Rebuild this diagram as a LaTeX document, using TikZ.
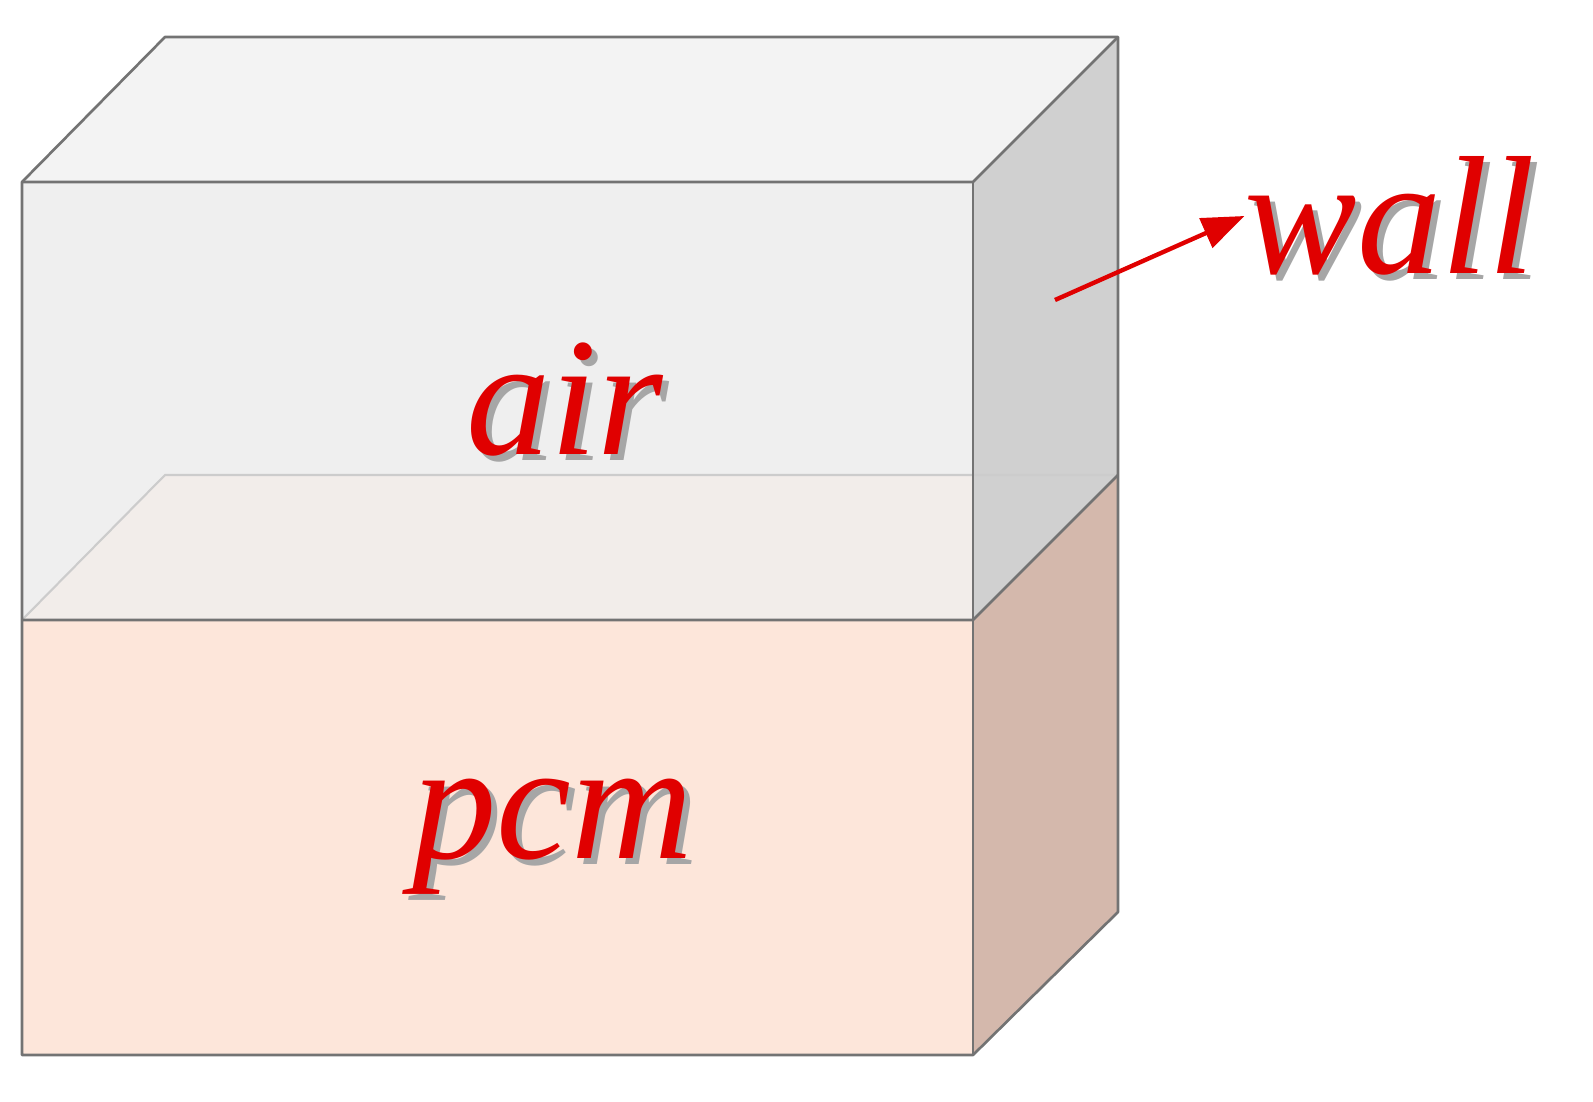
\documentclass[tikz,border=0pt]{standalone}
\usepackage{fontspec}
\setmainfont{Liberation Serif}
\usetikzlibrary{arrows.meta}
\definecolor{topc}{HTML}{F3F3F3}
\definecolor{airf}{HTML}{EFEFEF}
\definecolor{airr}{HTML}{D0D0D0}
\definecolor{pcmf}{HTML}{FDE6DA}
\definecolor{pcmr}{HTML}{D4B8AC}
\definecolor{plane}{HTML}{F2EDEA}
\definecolor{lbl}{HTML}{E00000}
\tikzset{edge/.style={draw=black!55,line width=1.5pt,line join=round},
 lab/.style={text=lbl,font=\itshape\fontsize{96}{100}\selectfont,inner sep=0pt},
 shadowlab/.style={text=black!35,font=\itshape\fontsize{96}{100}\selectfont,inner sep=0pt}}
\begin{document}
\begin{tikzpicture}[x=0.02cm,y=-0.02cm]
\useasboundingbox (0,0) rectangle (1593,1102);
% top face
\fill[topc] (22,182) -- (165,37) -- (1118,37) -- (973,182) -- cycle;
% front air
\fill[airf] (22,182) rectangle (973,620);
\fill[plane] (22,620) -- (165,475) -- (973,475) -- (973,620) -- cycle;
% front pcm
\fill[pcmf] (22,620) rectangle (973,1055);
% right faces
\fill[airr] (973,182) -- (1118,37) -- (1118,475) -- (973,620) -- cycle;
\fill[pcmr] (973,620) -- (1118,475) -- (1118,912) -- (973,1055) -- cycle;
% hidden interface lines
\draw[black!20,line width=1.2pt] (22,620) -- (165,475) -- (1118,475);
% edges
\draw[edge] (22,182) -- (165,37) -- (1118,37) -- (1118,912) -- (973,1055) -- (22,1055) -- cycle;
\draw[edge] (22,182) -- (973,182) -- (1118,37);
\draw[edge] (973,182) -- (973,1055);
\draw[edge] (22,620) -- (973,620) -- (1118,475);
% labels
\node[shadowlab] at (571,406) {air};
\node[lab] (air) at (565,400) {air};
\node[shadowlab] at (559,843) {pcm};
\node[lab] (pcm) at (553,837) {pcm};
\node[shadowlab] at (1396,222) {wall};
\node[lab] (wall) at (1390,216) {wall};
\coordinate (w0) at (1055,300);
\draw[lbl,line width=2.5pt,-{Triangle[length=24pt,width=18pt]}] (w0) -- (wall.west);
\end{tikzpicture}
\end{document}
